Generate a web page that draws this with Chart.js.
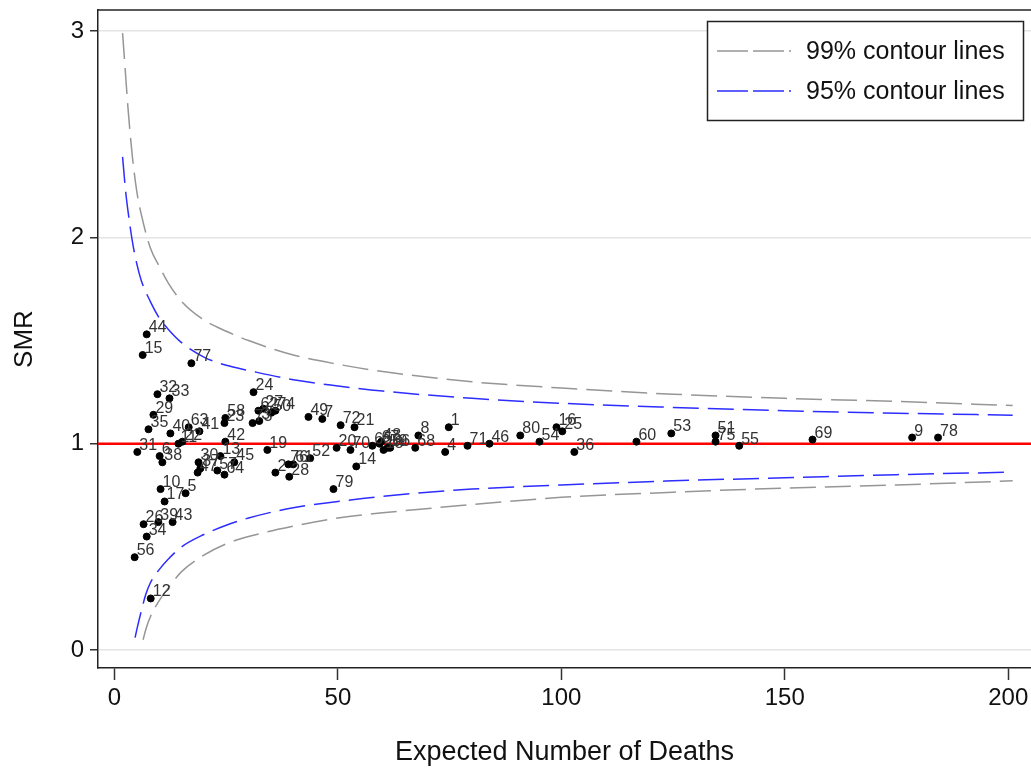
<!DOCTYPE html>
<html lang="en">
<head>
    <meta charset="UTF-8">
    <title>Funnel plot SMR</title>
    <script src="https://cdn.jsdelivr.net/npm/chart.js"></script>
    <style>
        body {
            margin: 0;
            background-color: #fff;
        }
        #funnel {
            display: block;
        }
    </style>
</head>
<body>
    <canvas id="funnel" width="1031" height="773"></canvas>

    <script>
        // hospital ids, expected deaths and SMR
        const hospIds = [
            1, 2, 3, 4, 5, 6, 7, 8, 9, 10, 11, 12, 13, 14, 15, 16, 17, 18, 19, 20,
            21, 22, 23, 24, 25, 26, 27, 28, 29, 30, 31, 32, 33, 34, 35, 36, 37, 38, 39, 40,
            41, 42, 43, 44, 45, 46, 47, 48, 49, 50, 51, 52, 53, 54, 55, 56, 57, 58, 59, 60,
            61, 62, 63, 64, 65, 66, 67, 68, 69, 70, 71, 72, 73, 74, 75, 76, 77, 78, 79, 80
        ];
        const expected = [
            74.8, 36.0, 32.4, 74.0, 15.9, 10.1, 46.5, 68.0, 178.5, 10.3,
            14.3, 8.1, 23.7, 54.1, 6.3, 98.9, 11.2, 60.2, 34.2, 49.7,
            53.7, 15.2, 24.6, 31.1, 100.2, 6.5, 33.3, 39.1, 8.7, 18.8,
            5.1, 9.6, 12.3, 7.2, 7.6, 102.9, 19.2, 10.7, 9.8, 12.5,
            19.0, 24.8, 13.0, 7.2, 26.8, 83.9, 18.6, 59.7, 43.4, 35.1,
            134.5, 43.8, 124.6, 95.1, 139.8, 4.5, 23.0, 24.8, 61.1, 116.8,
            40.0, 32.2, 16.6, 24.6, 57.7, 61.7, 59.3, 67.3, 156.2, 52.8,
            79.0, 50.6, 30.9, 36.0, 134.5, 38.9, 17.2, 184.3, 49.0, 90.8
        ];
        const smr = [
            1.08, 0.86, 1.11, 0.96, 0.76, 0.94, 1.12, 1.04, 1.03, 0.78,
            1.00, 0.25, 0.94, 0.89, 1.43, 1.08, 0.72, 0.97, 0.97, 0.98,
            1.08, 1.01, 1.10, 1.25, 1.06, 0.61, 1.17, 0.84, 1.14, 0.91,
            0.96, 1.24, 1.22, 0.55, 1.07, 0.96, 0.88, 0.91, 0.62, 1.05,
            1.06, 1.01, 0.62, 1.53, 0.91, 1.00, 0.86, 1.01, 1.13, 1.15,
            1.04, 0.93, 1.05, 1.01, 0.99, 0.45, 0.87, 1.125, 0.98, 1.01,
            0.90, 1.16, 1.08, 0.85, 0.99, 0.98, 1.00, 0.98, 1.02, 0.97,
            0.99, 1.09, 1.10, 1.16, 1.01, 0.90, 1.39, 1.03, 0.78, 1.04
        ];

        // contour lines (read at these expected counts)
        const upperE = [1.8, 2.5, 3, 4, 5, 6, 8, 10, 12, 15, 20, 25, 30, 40, 50, 60, 80, 100, 125, 150, 175, 201];
        const upper99 = [2.99, 2.78, 2.63, 2.39, 2.22, 2.11, 1.95, 1.86, 1.78, 1.69, 1.60, 1.545, 1.50, 1.43, 1.385, 1.35, 1.30, 1.27, 1.24, 1.22, 1.205, 1.185];
        const upper95 = [2.39, 2.22, 2.13, 1.98, 1.87, 1.79, 1.69, 1.61, 1.555, 1.49, 1.42, 1.38, 1.355, 1.31, 1.28, 1.255, 1.22, 1.196, 1.176, 1.16, 1.148, 1.138];
        const lower95E = [4.6, 5, 6, 7, 8, 10, 12, 15, 20, 25, 30, 40, 50, 60, 80, 100, 125, 150, 175, 201];
        const lower95 = [0.06, 0.10, 0.19, 0.27, 0.325, 0.39, 0.44, 0.50, 0.56, 0.605, 0.64, 0.69, 0.72, 0.745, 0.78, 0.80, 0.82, 0.835, 0.85, 0.862];
        const lower99E = [6.4, 7, 8, 10, 12, 15, 20, 25, 30, 40, 50, 60, 80, 100, 125, 150, 175, 201];
        const lower99 = [0.05, 0.10, 0.16, 0.24, 0.30, 0.38, 0.46, 0.515, 0.55, 0.60, 0.64, 0.665, 0.705, 0.74, 0.765, 0.785, 0.80, 0.82];

        const xTicks = [0, 50, 100, 150, 200];
        const yTicks = [0, 1, 2, 3];
        const xRange = [-3.7, 205.1];
        const yRange = [-0.087, 3.102];
        const refSmr = 1;

        const FONT = "'Liberation Sans', Arial, sans-serif";
        const GRAY = 'rgb(150,150,150)';
        const BLUE = 'rgb(45,45,255)';
        const DASH = [26, 9];

        function toPoints(xs, ys) {
            return xs.map((x, i) => ({ x: x, y: ys[i] }));
        }

        const hospitalPoints = expected.map((e, i) => ({ x: e, y: smr[i], id: hospIds[i] }));

        function curve(label, xs, ys, color) {
            return {
                type: 'line',
                label: label,
                data: toPoints(xs, ys),
                borderColor: color,
                borderWidth: 1.5,
                borderDash: DASH,
                pointRadius: 0,
                fill: false,
                cubicInterpolationMode: 'monotone',
                order: 2
            };
        }

        // labels next to each hospital dot
        const pointLabels = {
            id: 'pointLabels',
            afterDatasetsDraw(chart) {
                const meta = chart.getDatasetMeta(0);
                const ctx = chart.ctx;
                ctx.save();
                ctx.font = '16px ' + FONT;
                ctx.fillStyle = '#333';
                ctx.textAlign = 'left';
                ctx.textBaseline = 'alphabetic';
                meta.data.forEach((el, i) => {
                    ctx.fillText(String(hospIds[i]), el.x + 2, el.y - 2);
                });
                ctx.restore();
            }
        };

        // top frame line + legend box
        const frameAndLegend = {
            id: 'frameAndLegend',
            afterDraw(chart) {
                const ctx = chart.ctx;
                const area = chart.chartArea;
                ctx.save();
                ctx.strokeStyle = '#222';
                ctx.lineWidth = 1.5;
                ctx.beginPath();
                ctx.moveTo(area.left, area.top);
                ctx.lineTo(area.right, area.top);
                ctx.stroke();

                // legend
                ctx.fillStyle = '#fff';
                ctx.fillRect(707, 21, 317, 100);
                ctx.strokeStyle = '#222';
                ctx.lineWidth = 1.5;
                ctx.strokeRect(707.5, 21.5, 316, 99);

                const rows = [
                    { text: chart.data.datasets[2].label, color: GRAY, y: 51 },
                    { text: chart.data.datasets[4].label, color: BLUE, y: 91 }
                ];
                rows.forEach(r => {
                    ctx.strokeStyle = r.color;
                    ctx.lineWidth = 1.5;
                    ctx.setLineDash([31, 5]);
                    ctx.beginPath();
                    ctx.moveTo(717, r.y);
                    ctx.lineTo(791, r.y);
                    ctx.stroke();
                    ctx.setLineDash([]);
                    ctx.fillStyle = '#111';
                    ctx.font = '25px ' + FONT;
                    ctx.textBaseline = 'middle';
                    ctx.fillText(r.text, 806, r.y + 1);
                });
                ctx.restore();
            }
        };

        const ctx = document.getElementById('funnel').getContext('2d');
        const funnelChart = new Chart(ctx, {
            type: 'scatter',
            data: {
                datasets: [
                    {
                        label: 'Hospitals',
                        data: hospitalPoints,
                        backgroundColor: '#000',
                        borderColor: '#000',
                        pointRadius: 3.5,
                        pointHoverRadius: 3.5,
                        order: 0
                    },
                    {
                        type: 'line',
                        label: 'SMR = 1',
                        data: toPoints(xRange, [refSmr, refSmr]),
                        borderColor: 'rgb(255,0,0)',
                        borderWidth: 2.5,
                        pointRadius: 0,
                        order: 1
                    },
                    curve('99% contour lines', upperE, upper99, GRAY),
                    curve('99% lower', lower99E, lower99, GRAY),
                    curve('95% contour lines', upperE, upper95, BLUE),
                    curve('95% lower', lower95E, lower95, BLUE)
                ]
            },
            options: {
                responsive: false,
                animation: false,
                events: [],
                layout: {
                    autoPadding: false,
                    padding: { top: 10, right: 0, bottom: 0, left: 0 }
                },
                plugins: {
                    legend: { display: false },
                    tooltip: { enabled: false }
                },
                scales: {
                    x: {
                        type: 'linear',
                        min: xRange[0],
                        max: xRange[1],
                        afterBuildTicks: axis => { axis.ticks = xTicks.map(v => ({ value: v })); },
                        afterFit: s => {
                            s.height = 105;
                            s.paddingLeft = 0;
                            s.paddingRight = 0;
                        },
                        ticks: {
                            font: { family: FONT, size: 24 },
                            color: '#111',
                            padding: 4,
                            maxRotation: 0
                        },
                        grid: {
                            drawOnChartArea: false,
                            tickLength: 12,
                            tickColor: '#333',
                            tickWidth: 1.5
                        },
                        border: { color: '#222', width: 1.5 },
                        title: {
                            display: true,
                            text: 'Expected Number of Deaths',
                            font: { family: FONT, size: 27 },
                            color: '#111',
                            padding: { top: 18 }
                        }
                    },
                    y: {
                        type: 'linear',
                        min: yRange[0],
                        max: yRange[1],
                        afterBuildTicks: axis => { axis.ticks = yTicks.map(v => ({ value: v })); },
                        afterFit: s => {
                            s.width = 98;
                            s.paddingTop = 0;
                            s.paddingBottom = 0;
                        },
                        ticks: {
                            font: { family: FONT, size: 24 },
                            color: '#111',
                            padding: 6
                        },
                        grid: {
                            color: '#e4e4e4',
                            lineWidth: 1.5,
                            tickLength: 8,
                            tickColor: '#333',
                            tickWidth: 1.5
                        },
                        border: { color: '#222', width: 1.5 },
                        title: {
                            display: true,
                            text: 'SMR',
                            font: { family: FONT, size: 26 },
                            color: '#111',
                            padding: { top: 9, bottom: 0 }
                        }
                    }
                }
            },
            plugins: [pointLabels, frameAndLegend]
        });
    </script>
</body>
</html>
